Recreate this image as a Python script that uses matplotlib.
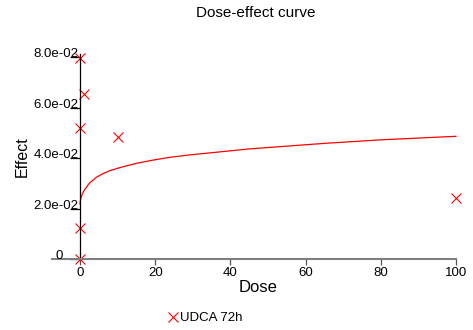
import matplotlib
matplotlib.use("Agg")
import matplotlib.pyplot as plt

plt.rcParams['font.family'] = ['Liberation Sans', 'DejaVu Sans']

# measured points
dose = [0, 0, 0, 0, 1, 10, 100]
effect = [0.0, 0.0123, 0.0519, 0.0796, 0.0653, 0.0483, 0.0242]

# fitted curve
curve_dose = [0, 0.1, 0.3, 0.6, 0.9, 1.3, 1.8, 2.2, 2.7, 3.5, 4.5, 6.2, 8,
              10.6, 15, 19.5, 24, 29, 45, 65, 80, 100]
curve_effect = [0.0218, 0.0232, 0.0243, 0.0257, 0.0266, 0.0276, 0.0286,
                0.0295, 0.0303, 0.0313, 0.0325, 0.0339, 0.0350, 0.0362,
                0.0379, 0.0392, 0.0403, 0.0412, 0.0436, 0.0458, 0.0472,
                0.0486]

yticks = [0, 0.02, 0.04, 0.06, 0.08]
ytick_labels = ["", "2.0e-02", "4.0e-02", "6.0e-02", "8.0e-02"]
xticks = [0, 20, 40, 60, 80, 100]

fig = plt.figure(figsize=(4.73, 3.30), dpi=100)
ax = fig.add_axes([52 / 473, 1 - 259 / 330, 404 / 473, 205 / 330])

ax.plot(curve_dose, curve_effect, color="red", lw=0.9, clip_on=False)
pts, = ax.plot(dose, effect, ls="none", marker="x", ms=7, mew=0.8,
               color="red", clip_on=False, label="UDCA 72h")

ax.set_xlim(-7.45, 100)
ax.set_ylim(0, 0.0812)

for s in ("top", "right"):
    ax.spines[s].set_visible(False)
ax.spines["left"].set_position(("data", 0))
ax.spines["left"].set_linewidth(0.9)
ax.spines["bottom"].set_color("#7f7f7f")
ax.spines["bottom"].set_linewidth(1.5)

ax.set_xticks(xticks)
ax.set_yticks(yticks)
ax.set_yticklabels(ytick_labels)
ax.tick_params(axis="x", length=4, width=0.9, color="#555555", labelsize=9.5, pad=2)
ax.tick_params(axis="y", length=7, width=0.9, labelsize=9.5, pad=-6)
for lab in ax.get_yticklabels():
    lab.set_va("baseline")
ax.text(-5.6, 0, "0", fontsize=9.5, ha="center", va="baseline")

ax.set_xlabel("Dose", fontsize=12, va="center")
ax.xaxis.set_label_coords(0.51, -0.137)
ax.set_ylabel("Effect", fontsize=11.5, va="center")
ax.yaxis.set_label_coords(-0.074, 0.5)
fig.text(256 / 473, 1 - 13 / 330, "Dose-effect curve", fontsize=11,
         ha="center", va="center")

fig.legend(handles=[pts], loc="center left",
           bbox_to_anchor=(167.5 / 473, 1 - 318 / 330), frameon=False,
           handlelength=0.85, handletextpad=0.1, borderpad=0,
           borderaxespad=0, fontsize=9.5)

fig.savefig("out.png", dpi=100)
